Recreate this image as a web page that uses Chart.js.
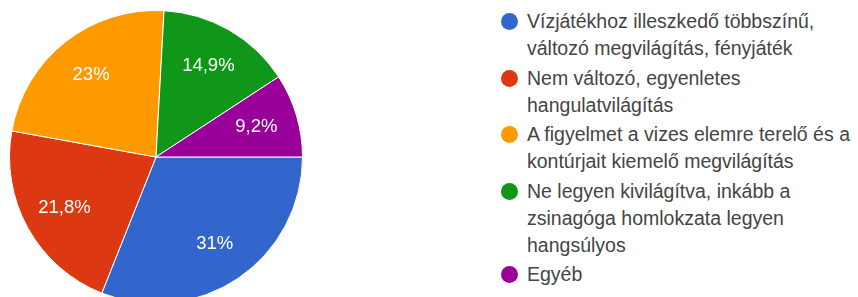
<!DOCTYPE html>
<html>
<head>
<meta charset="utf-8">
<script src="https://cdn.jsdelivr.net/npm/chart.js@4"></script>
<style>
  html, body { margin: 0; padding: 0; background: #fff; }
  body { width: 858px; height: 297px; overflow: hidden; position: relative; font-family: "Liberation Sans", Arial, sans-serif; }
  #pieBox { position: absolute; left: 9px; top: 10px; width: 294px; height: 294px; }
  #legend { position: absolute; left: 501px; top: 8px; margin: 0; padding: 0; list-style: none; }
  #legend li { position: relative; padding-left: 26px; margin-bottom: 2.5px; font-size: 19.5px; line-height: 27px; color: #444; }
  #legend .dot { position: absolute; left: 0; top: 5px; width: 17px; height: 17px; border-radius: 50%; }
</style>
</head>
<body>
<div id="pieBox"><canvas id="chartPie"></canvas></div>
<ul id="legend"></ul>
<script>
const answers = [
    "Vízjátékhoz illeszkedő többszínű, változó megvilágítás, fényjáték",
    "Nem változó, egyenletes hangulatvilágítás",
    "A figyelmet a vizes elemre terelő és a kontúrjait kiemelő megvilágítás",
    "Ne legyen kivilágítva, inkább a zsinagóga homlokzata legyen hangsúlyos",
    "Egyéb"
];
// legend lines as wrapped in the picture
const legendLines = [
    ["Vízjátékhoz illeszkedő többszínű,", "változó megvilágítás, fényjáték"],
    ["Nem változó, egyenletes", "hangulatvilágítás"],
    ["A figyelmet a vizes elemre terelő és a", "kontúrjait kiemelő megvilágítás"],
    ["Ne legyen kivilágítva, inkább a", "zsinagóga homlokzata legyen", "hangsúlyos"],
    ["Egyéb"]
];
const shares = [31, 21.8, 23, 14.9, 9.2];
const sliceColors = ['#3366cc', '#dc3912', '#ff9900', '#109618', '#990099'];

// html legend
var legendEl = document.getElementById('legend');
legendLines.forEach((lines, i) => {
    var li = document.createElement('li');
    var dot = document.createElement('span');
    dot.className = 'dot';
    dot.style.background = sliceColors[i];
    li.appendChild(dot);
    li.appendChild(document.createTextNode(lines[0]));
    for (let k = 1; k < lines.length; k++) {
        li.appendChild(document.createElement('br'));
        li.appendChild(document.createTextNode(lines[k]));
    }
    legendEl.appendChild(li);
});

// percent text inside slices
const sliceLabels = {
    id: 'sliceLabels',
    afterDatasetsDraw(chart) {
        const ctx = chart.ctx;
        const meta = chart.getDatasetMeta(0);
        ctx.save();
        ctx.font = '18.5px "Liberation Sans", Arial, sans-serif';
        ctx.fillStyle = '#ffffff';
        ctx.textAlign = 'center';
        ctx.textBaseline = 'middle';
        meta.data.forEach((arc, i) => {
            const p = arc.getProps(['x', 'y', 'startAngle', 'endAngle', 'outerRadius'], true);
            const mid = (p.startAngle + p.endAngle) / 2;
            const r = p.outerRadius * 0.715;
            const txt = String(shares[i]).replace('.', ',') + '%';
            ctx.fillText(txt, p.x + Math.cos(mid) * r, p.y + Math.sin(mid) * r);
        });
        ctx.restore();
    }
};

const ctx1 = document.getElementById('chartPie').getContext('2d');
var pieChart = new Chart(ctx1, {
    type: 'pie',
    data: {
        labels: answers,
        datasets: [
            {
                data: shares,
                backgroundColor: sliceColors,
                borderColor: '#ffffff',
                borderWidth: 1,
                hoverOffset: 0
            }
        ]
    },
    options: {
        responsive: true,
        maintainAspectRatio: false,
        animation: false,
        rotation: 90,
        layout: { padding: 0 },
        plugins: {
            legend: { display: false },
            tooltip: { enabled: false }
        }
    },
    plugins: [sliceLabels]
});
</script>
</body>
</html>
